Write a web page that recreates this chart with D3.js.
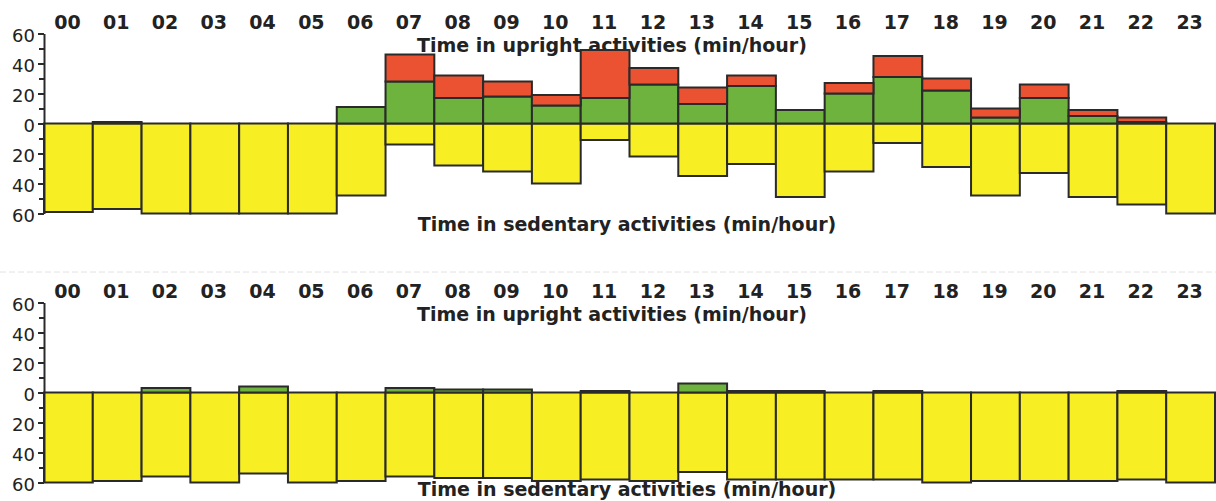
<!DOCTYPE html>
<html>
<head>
<meta charset="utf-8">
<script src="https://cdn.jsdelivr.net/npm/d3@7"></script>
<style>
  html, body { margin: 0; padding: 0; background: #ffffff; }
  svg { display: block; }
</style>
</head>
<body>
<svg id="chart" width="1216" height="501"></svg>
<script>
// ---- Data ----
const hours = ["00","01","02","03","04","05","06","07","08","09","10","11",
               "12","13","14","15","16","17","18","19","20","21","22","23"];

// Top panel (min/hour)
const sedentaryTop = [59,57,60,60,60,60,48,14,28,32,40,11,22,35,27,49,32,13,29,48,33,49,54,60];
const uprightLightTop = [0,1,0,0,0,0,11,28,17,18,12,17,26,13,25,9,20,31,22,4,17,5,1,0];
const uprightActiveTop = [0,0,0,0,0,0,0,18,15,10,7,32,11,11,7,0,7,14,8,6,9,4,3,0];

// Bottom panel (min/hour)
const sedentaryBottom = [60,59,56,60,54,60,59,56,57,57,59,58,59,53,58,58,58,58,60,59,59,59,58,60];
const uprightLightBottom = [0,0,3,0,4,0,0,3,2,2,0,1,0,6,1,1,0,1,0,0,0,0,1,0];
const uprightActiveBottom = [0,0,0,0,0,0,0,0,0,0,0,0,0,0,0,0,0,0,0,0,0,0,0,0];

const majorTicks = [-60,-40,-20,0,20,40,60];
const minorTicks = [-50,-30,-10,10,30,50];

const uprightTitle = "Time in upright activities (min/hour)";
const sedentaryTitle = "Time in sedentary activities (min/hour)";

// ---- Style ----
const COL_YELLOW = "#f7ef24";
const COL_GREEN = "#6db33d";
const COL_RED = "#ea5232";
const COL_LINE = "#2a2a2a";
const COL_TEXT = "#222222";
const BOLD_FONT = "'DejaVu Sans', sans-serif";

const svg = d3.select("#chart");

const x = d3.scaleBand().domain(hours).range([44, 1215]).padding(0);

function drawPanel(top, sed, light, active, sedTitleOffset) {
  // top = y pixel for +60
  const y = d3.scaleLinear().domain([-60, 60]).range([top + 180, top]);
  const g = svg.append("g");

  // hour labels
  g.append("g").selectAll("text").data(hours).join("text")
    .attr("x", d => x(d) + x.bandwidth() / 2 - 1)
    .attr("y", top - 5)
    .attr("text-anchor", "middle")
    .style("font-family", BOLD_FONT)
    .style("font-weight", "bold")
    .style("font-size", "19px")
    .style("fill", COL_TEXT)
    .text(d => d);

  // titles
  g.append("text")
    .attr("x", 612)
    .attr("y", top + 18)
    .attr("text-anchor", "middle")
    .style("font-family", BOLD_FONT)
    .style("font-weight", "bold")
    .style("font-size", "19px")
    .style("fill", COL_TEXT)
    .text(uprightTitle);

  g.append("text")
    .attr("x", 627)
    .attr("y", top + sedTitleOffset)
    .attr("text-anchor", "middle")
    .style("font-family", BOLD_FONT)
    .style("font-weight", "bold")
    .style("font-size", "19px")
    .style("fill", COL_TEXT)
    .text(sedentaryTitle);

  const bars = g.append("g")
    .attr("stroke", COL_LINE)
    .attr("stroke-width", 2);

  // sedentary (downwards)
  bars.selectAll("rect.sed").data(hours.map((h, i) => ({h, v: sed[i]})).filter(d => d.v > 0))
    .join("rect").attr("class", "sed")
    .attr("x", d => x(d.h))
    .attr("width", x.bandwidth())
    .attr("y", y(0))
    .attr("height", d => y(-d.v) - y(0))
    .attr("fill", COL_YELLOW);

  // upright light (green)
  bars.selectAll("rect.light").data(hours.map((h, i) => ({h, v: light[i]})).filter(d => d.v > 0))
    .join("rect").attr("class", "light")
    .attr("x", d => x(d.h))
    .attr("width", x.bandwidth())
    .attr("y", d => y(d.v))
    .attr("height", d => y(0) - y(d.v))
    .attr("fill", COL_GREEN);

  // upright active (red), stacked
  bars.selectAll("rect.active").data(hours.map((h, i) => ({h, base: light[i], v: active[i]})).filter(d => d.v > 0))
    .join("rect").attr("class", "active")
    .attr("x", d => x(d.h))
    .attr("width", x.bandwidth())
    .attr("y", d => y(d.base + d.v))
    .attr("height", d => y(d.base) - y(d.base + d.v))
    .attr("fill", COL_RED);

  // axis
  const axisMajor = d3.axisLeft(y).tickValues(majorTicks).tickSize(6).tickSizeOuter(0).tickPadding(3)
    .tickFormat(d => Math.abs(d));
  const ax = g.append("g").attr("transform", "translate(44,0)").call(axisMajor);
  ax.select(".domain").attr("stroke", COL_LINE).attr("stroke-width", 2);
  ax.selectAll(".tick line").attr("stroke", COL_LINE).attr("stroke-width", 2);
  ax.selectAll(".tick text")
    .style("font-family", "'DejaVu Sans', sans-serif")
    .style("font-size", "18px")
    .style("fill", COL_TEXT)
    .attr("dy", "0.45em");

  const axisMinor = d3.axisLeft(y).tickValues(minorTicks).tickSize(5).tickSizeOuter(0).tickFormat("");
  const axm = g.append("g").attr("transform", "translate(44,0)").call(axisMinor);
  axm.select(".domain").remove();
  axm.selectAll(".tick line").attr("stroke", COL_LINE).attr("stroke-width", 2);
}

drawPanel(33.5, sedentaryTop, uprightLightTop, uprightActiveTop, 197);
drawPanel(302.5, sedentaryBottom, uprightLightBottom, uprightActiveBottom, 193.5);

// faint scan separator
svg.append("line")
  .attr("x1", 0).attr("x2", 1216)
  .attr("y1", 272).attr("y2", 272)
  .attr("stroke", "#e2e2e2").attr("stroke-width", 1)
  .attr("stroke-dasharray", "6,3");
</script>
</body>
</html>
